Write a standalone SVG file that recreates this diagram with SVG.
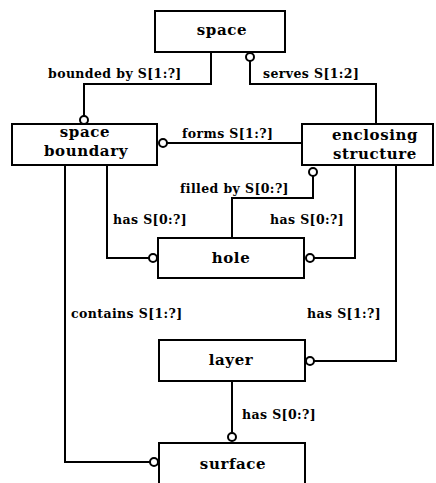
<svg xmlns="http://www.w3.org/2000/svg" width="436" height="483" viewBox="0 0 436 483">
<style>
.box{fill:#fff;stroke:#000;stroke-width:2}
.ln{fill:none;stroke:#000;stroke-width:2}
.c{fill:#fff;stroke:#000;stroke-width:2}
text{font-family:"DejaVu Serif","Liberation Serif",serif;font-weight:bold;font-size:12.5px;letter-spacing:0.4px;fill:#000}
.n{font-size:15px;letter-spacing:0.6px;text-anchor:middle}
</style>
<rect width="436" height="483" fill="#fff"/>
<g id="connectors">
<path class="ln" d="M211,52 V84 H84 V116"/>
<path class="ln" d="M250,61 V84 H376 V124"/>
<path class="ln" d="M167,143 H302"/>
<path class="ln" d="M65,165 V462 H150"/>
<path class="ln" d="M107,165 V258 H149"/>
<path class="ln" d="M313,176 V198 H232 V238"/>
<path class="ln" d="M355,165 V258 H314"/>
<path class="ln" d="M396,165 V361 H314"/>
<path class="ln" d="M232,381 V433"/>
<circle class="c" cx="250" cy="57" r="4"/>
<circle class="c" cx="84" cy="120" r="4"/>
<circle class="c" cx="163" cy="143" r="4"/>
<circle class="c" cx="313" cy="172" r="4"/>
<circle class="c" cx="153" cy="258" r="4"/>
<circle class="c" cx="310" cy="258" r="4"/>
<circle class="c" cx="310" cy="361" r="4"/>
<circle class="c" cx="232" cy="437" r="4"/>
<circle class="c" cx="154" cy="462" r="4"/>
<text x="48" y="78">bounded by S[1:?]</text>
<text x="263" y="78">serves S[1:2]</text>
<text x="182" y="138">forms S[1:?]</text>
<text x="180" y="193">filled by S[0:?]</text>
<text x="113" y="224">has S[0:?]</text>
<text x="270" y="224">has S[0:?]</text>
<text x="71" y="318">contains S[1:?]</text>
<text x="307" y="318">has S[1:?]</text>
<text x="242" y="419">has S[0:?]</text>
</g>
<g id="space"><rect class="box" x="155" y="11" width="130" height="41"/><text class="n" x="222" y="35">space</text></g>
<g id="space-boundary"><rect class="box" x="12" y="124" width="145" height="41"/><text class="n" x="85" y="137">space</text><text class="n" x="86" y="156">boundary</text></g>
<g id="enclosing-structure"><rect class="box" x="302" y="124" width="131" height="41"/><text class="n" x="375" y="140">enclosing</text><text class="n" x="375" y="159">structure</text></g>
<g id="hole"><rect class="box" x="158" y="238" width="146" height="40"/><text class="n" x="231" y="263">hole</text></g>
<g id="layer"><rect class="box" x="159" y="340" width="146" height="41"/><text class="n" x="231" y="365">layer</text></g>
<g id="surface"><rect class="box" x="159" y="443" width="146" height="42"/><text class="n" x="233" y="469">surface</text></g>
</svg>
